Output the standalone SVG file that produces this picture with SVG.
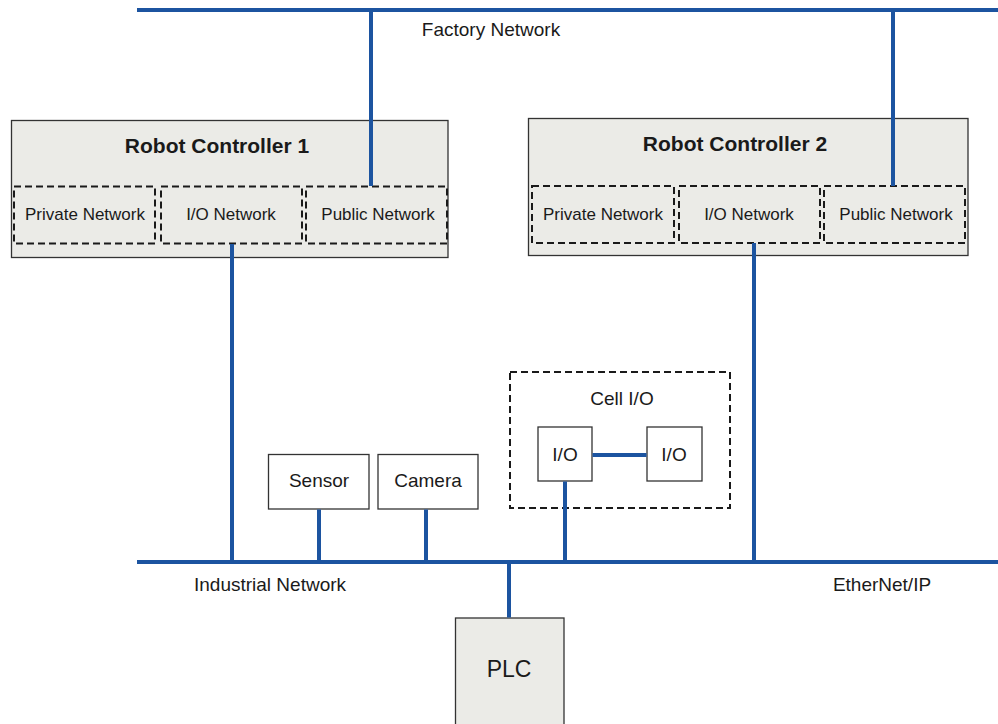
<svg xmlns="http://www.w3.org/2000/svg" width="998" height="724" viewBox="0 0 998 724">
<style>
text{font-family:"Liberation Sans",Arial,sans-serif;fill:#1a1a1a;text-anchor:middle}
.ctrl{fill:#ebebe7;stroke:#333;stroke-width:1.3}
.sub{fill:none;stroke:#1a1a1a;stroke-width:2;stroke-dasharray:7,4}
.box{fill:#fff;stroke:#333;stroke-width:1.3}
.net{stroke:#1c54a0;stroke-width:4;fill:none}
.t17{font-size:17px}
.t19{font-size:19px}
.title{font-size:21px;font-weight:bold}
</style>
<rect width="998" height="724" fill="#fff"/>
<g id="labels">
<text class="t19" x="491" y="36">Factory Network</text>
<text class="t19" x="270" y="591">Industrial Network</text>
<text class="t19" x="882" y="591">EtherNet/IP</text>
</g>
<g id="rc1">
<rect class="ctrl" x="11.5" y="120.5" width="436.5" height="137"/>
<text class="title" x="217" y="153">Robot Controller 1</text>
<g id="rc1-private"><rect class="sub" x="14" y="186.5" width="141" height="57"/><text class="t17" x="85" y="220">Private Network</text></g>
<g id="rc1-io"><rect class="sub" x="161" y="186.5" width="141" height="57"/><text class="t17" x="231" y="220">I/O Network</text></g>
<g id="rc1-public"><rect class="sub" x="306" y="186.5" width="141" height="57"/><text class="t17" x="378" y="220">Public Network</text></g>
</g>
<g id="rc2">
<rect class="ctrl" x="528.5" y="118.5" width="439.5" height="137"/>
<text class="title" x="735" y="151">Robot Controller 2</text>
<g id="rc2-private"><rect class="sub" x="532" y="186" width="142" height="57"/><text class="t17" x="603" y="220">Private Network</text></g>
<g id="rc2-io"><rect class="sub" x="679" y="186" width="141" height="57"/><text class="t17" x="749" y="220">I/O Network</text></g>
<g id="rc2-public"><rect class="sub" x="824" y="186" width="141" height="57"/><text class="t17" x="896" y="220">Public Network</text></g>
</g>
<g id="sensor">
<rect class="box" x="268.5" y="454.5" width="100.5" height="54.5"/>
<text class="t19" x="319" y="487">Sensor</text>
</g>
<g id="camera">
<rect class="box" x="378" y="454.5" width="100" height="54.5"/>
<text class="t19" x="428" y="487">Camera</text>
</g>
<g id="cell-io">
<rect class="sub" x="510" y="372" width="220" height="136"/>
<text class="t19" x="622" y="405">Cell I/O</text>
<g id="io1"><rect class="box" x="538" y="427" width="54" height="54"/><text class="t19" x="565" y="461">I/O</text></g>
<g id="io2"><rect class="box" x="647" y="427" width="55" height="54"/><text class="t19" x="674" y="461">I/O</text></g>
</g>
<g id="plc">
<rect class="ctrl" x="455.5" y="618" width="108.5" height="110"/>
<text x="509" y="677" font-size="23">PLC</text>
</g>
<g id="connectors">
<line class="net" x1="137" y1="10" x2="998" y2="10"/>
<line class="net" x1="371" y1="10" x2="371" y2="186"/>
<line class="net" x1="893" y1="10" x2="893" y2="186"/>
<line class="net" x1="137" y1="562" x2="998" y2="562"/>
<line class="net" x1="232" y1="244" x2="232" y2="562"/>
<line class="net" x1="754" y1="243" x2="754" y2="562"/>
<line class="net" x1="319" y1="509.5" x2="319" y2="562"/>
<line class="net" x1="426" y1="509.5" x2="426" y2="562"/>
<line class="net" x1="565" y1="481.5" x2="565" y2="562"/>
<line class="net" x1="592.5" y1="455" x2="646.5" y2="455"/>
<line class="net" x1="509" y1="562" x2="509" y2="617.5"/>
</g>
</svg>
